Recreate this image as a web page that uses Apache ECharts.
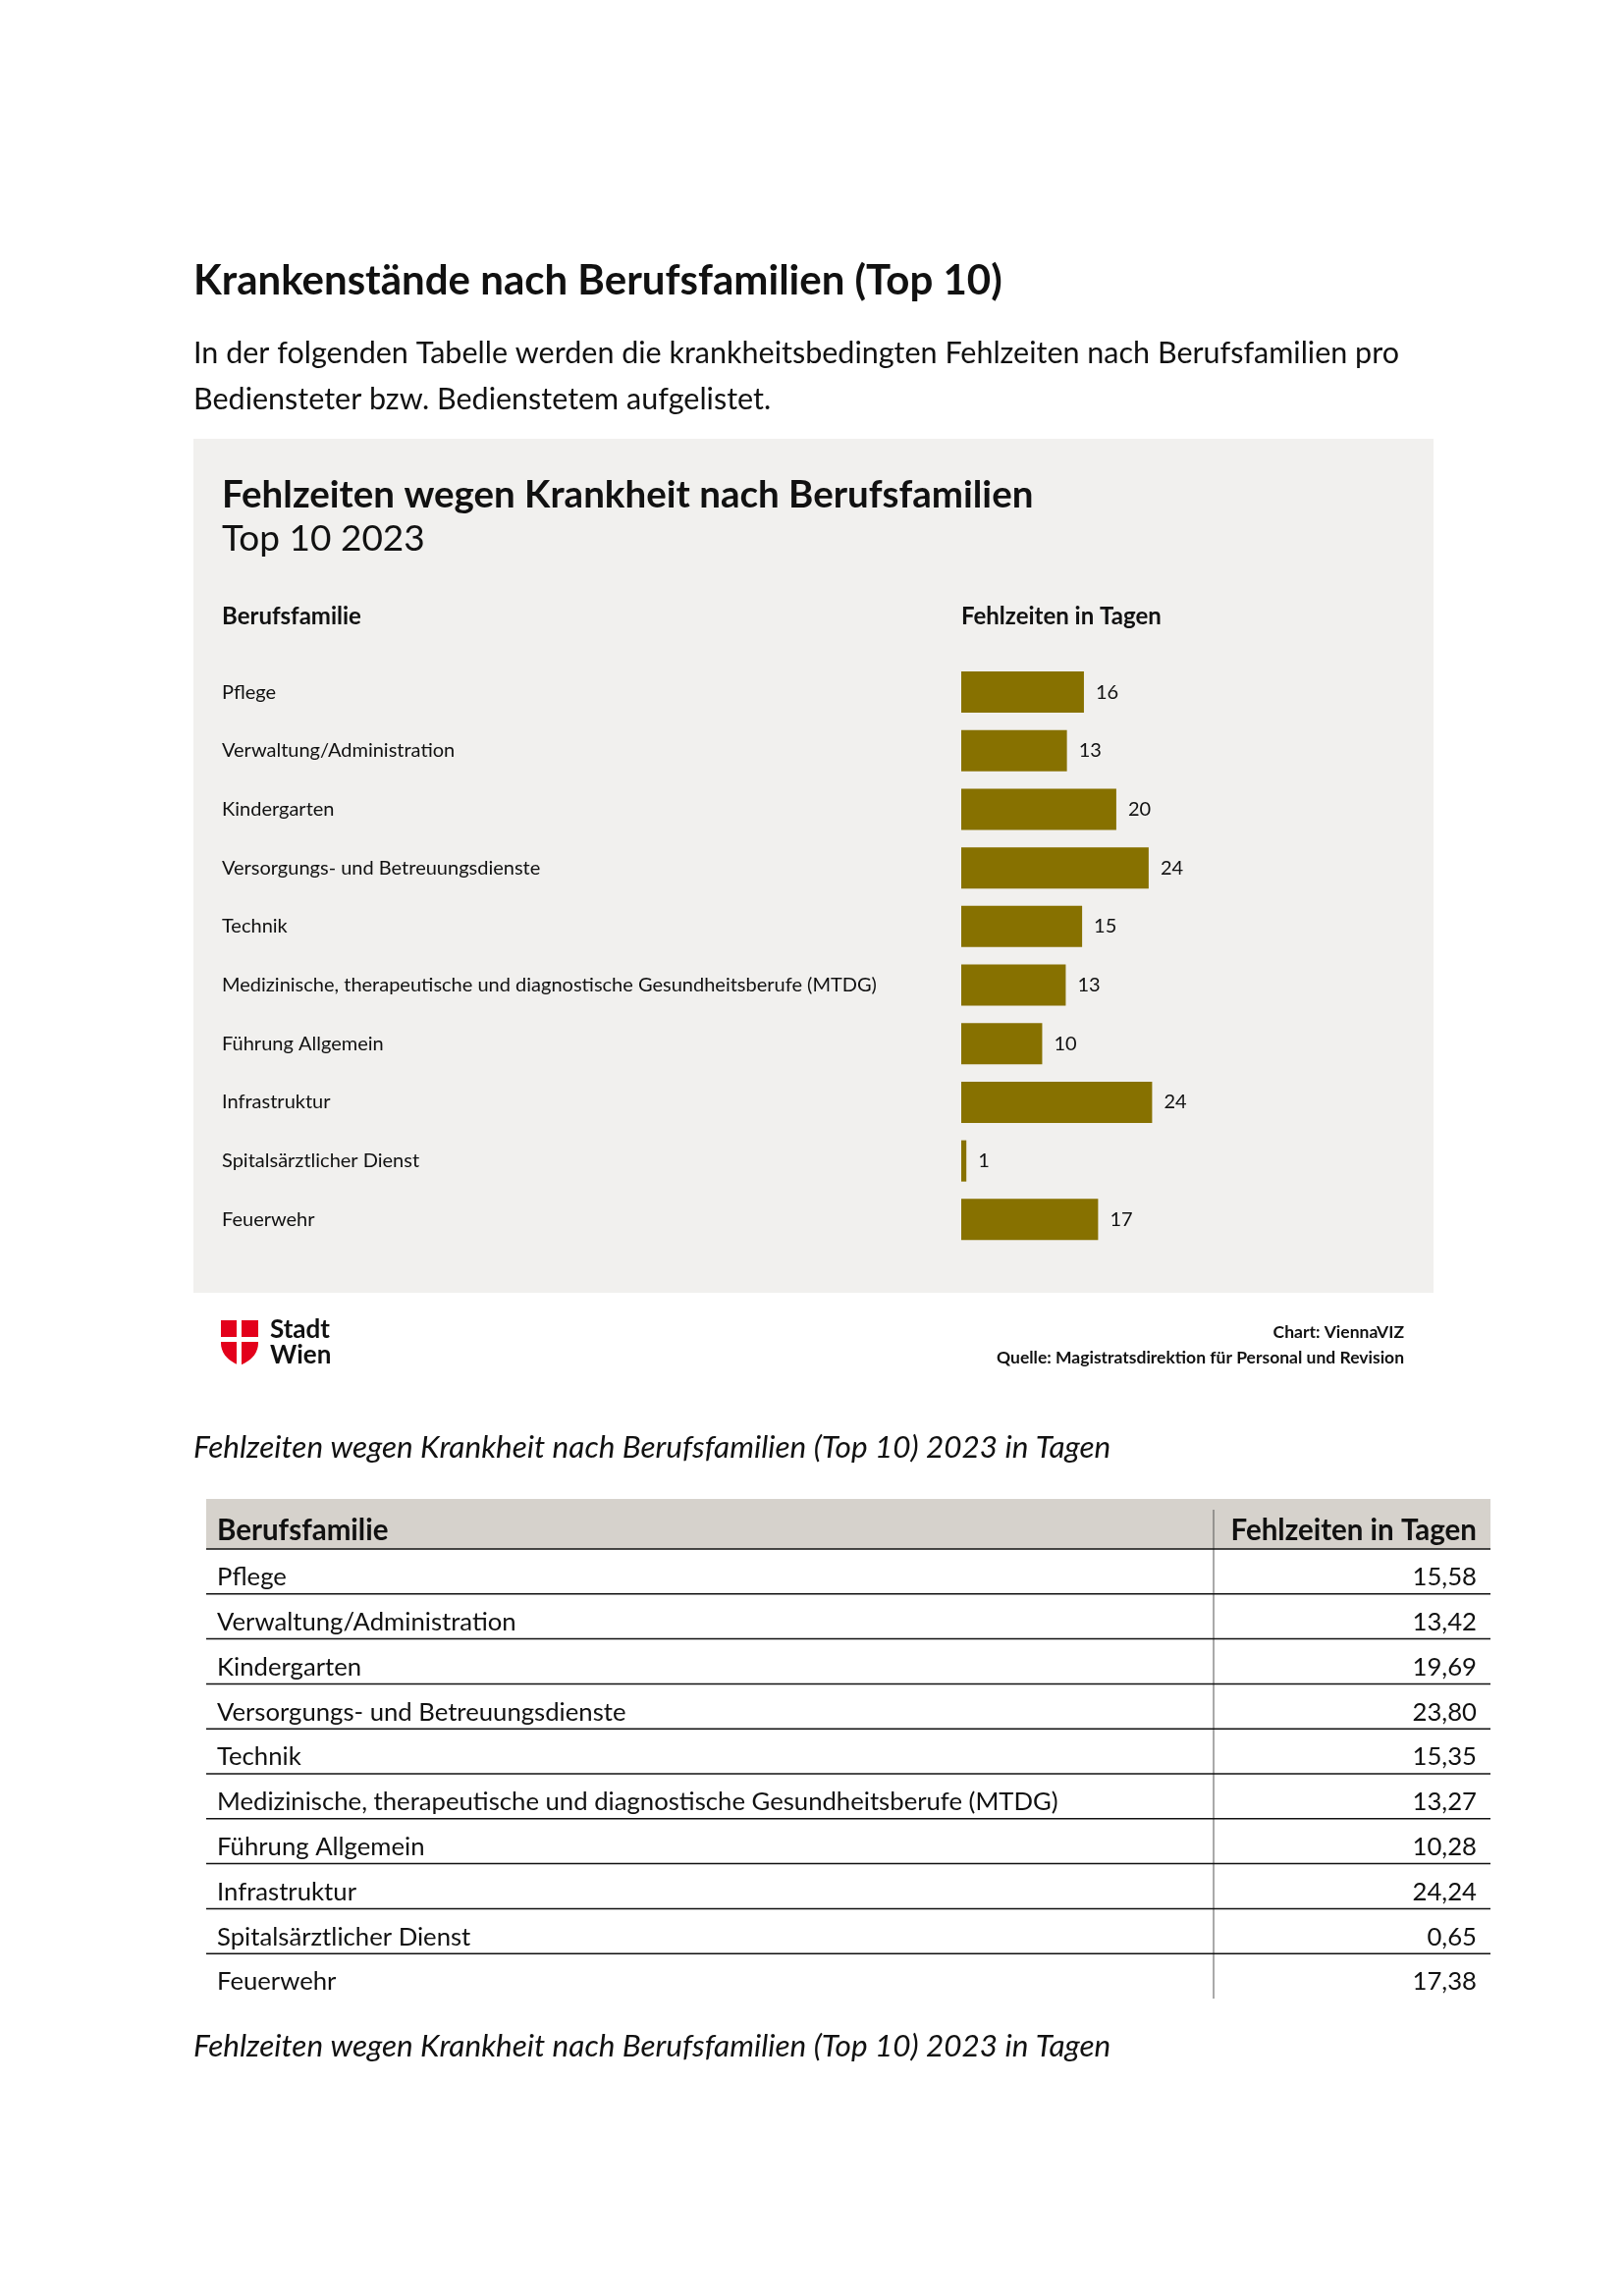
<!DOCTYPE html>
<html>
<head>
<meta charset="utf-8">
<script src="https://cdn.jsdelivr.net/npm/echarts@6/dist/echarts.min.js"></script>
<style>
html,body{margin:0;padding:0;background:#fff;}
#c{width:1654px;height:2339px;}
</style>
</head>
<body>
<div id="c"></div>
<script>
// ---- data ----
const categories = ['Pflege','Verwaltung/Administration','Kindergarten','Versorgungs- und Betreuungsdienste','Technik','Medizinische, therapeutische und diagnostische Gesundheitsberufe (MTDG)','Führung Allgemein','Infrastruktur','Spitalsärztlicher Dienst','Feuerwehr'];
const values = [15.58, 13.42, 19.69, 23.80, 15.35, 13.27, 10.28, 24.24, 0.65, 17.38];
const tableHeaders = ['Berufsfamilie', 'Fehlzeiten in Tagen'];
const pageTitle = 'Krankenstände nach Berufsfamilien (Top 10)';
const introLines = ['In der folgenden Tabelle werden die krankheitsbedingten Fehlzeiten nach Berufsfamilien pro', 'Bediensteter bzw. Bedienstetem aufgelistet.'];
const chartTitle = 'Fehlzeiten wegen Krankheit nach Berufsfamilien';
const chartSubtitle = 'Top 10 2023';
const creditLines = ['Chart: ViennaVIZ', 'Quelle: Magistratsdirektion für Personal und Revision'];
const captionText = 'Fehlzeiten wegen Krankheit nach Berufsfamilien (Top 10) 2023 in Tagen';

const F = 'Lato, "Open Sans", sans-serif';
const BAR = '#877100';
const INK = '#111111';

const chart = echarts.init(document.getElementById('c'), null, {renderer: 'canvas'});

function txt(x, y, text, size, weight, opts) {
  opts = opts || {};
  return {
    type: 'text', x: x, y: y, z: opts.z || 10,
    style: {
      text: text, fontFamily: F, fontSize: size, fontWeight: weight,
      fontStyle: opts.italic ? 'italic' : 'normal',
      fill: opts.color || INK, align: opts.align || 'left', verticalAlign: 'middle'
    }
  };
}

// shield outline for logo
function bez(p0, p1, p2, p3, n) {
  const out = [];
  for (let k = 1; k <= n; k++) {
    const t = k / n, u = 1 - t;
    out.push([u*u*u*p0[0] + 3*u*u*t*p1[0] + 3*u*t*t*p2[0] + t*t*t*p3[0],
              u*u*u*p0[1] + 3*u*u*t*p1[1] + 3*u*t*t*p2[1] + t*t*t*p3[1]]);
  }
  return out;
}
const shield = [[225, 1345], [263, 1345], [263, 1368]]
  .concat(bez([263, 1368], [263, 1380], [254, 1387], [244, 1391], 10))
  .concat(bez([244, 1391], [234, 1387], [225, 1380], [225, 1368], 10));

const g = [];
// page text
g.push(txt(197, 286, pageTitle, 42, 'bold'));
g.push(txt(197, 360, introLines[0], 30.5, 'normal'));
g.push(txt(197, 407, introLines[1], 30.5, 'normal'));
// panel
g.push({type: 'rect', z: 0, shape: {x: 197, y: 447, width: 1263, height: 870}, style: {fill: '#f1f0ee'}});
g.push(txt(226, 505, chartTitle, 38.5, 'bold'));
g.push(txt(226, 549, chartSubtitle, 37, 'normal'));
g.push(txt(226, 628, tableHeaders[0], 24, 'bold'));
g.push(txt(979, 628, tableHeaders[1], 24, 'bold'));
// logo
g.push({type: 'polygon', z: 10, shape: {points: shield}, style: {fill: '#e3001b'}});
g.push({type: 'rect', z: 11, shape: {x: 241, y: 1343, width: 5, height: 50}, style: {fill: '#fff'}});
g.push({type: 'rect', z: 11, shape: {x: 223, y: 1362, width: 42, height: 5}, style: {fill: '#fff'}});
g.push(txt(275, 1355, 'Stadt', 26, 'bold'));
g.push(txt(275, 1381, 'Wien', 26, 'bold'));
g.push(txt(1430, 1357, creditLines[0], 17.5, 'bold', {align: 'right'}));
g.push(txt(1430, 1383, creditLines[1], 17.5, 'bold', {align: 'right'}));
// captions
g.push(txt(197, 1475, captionText, 31.5, 'normal', {italic: true}));
g.push(txt(197, 2085, captionText, 31.5, 'normal', {italic: true}));

// table
const TL = 210, TR = 1518, TSEP = 1236, HTOP = 1527, HBOT = 1578, RH = 45.8, VR = 1504;
g.push({type: 'rect', z: 1, shape: {x: TL, y: HTOP, width: TR - TL, height: HBOT - HTOP}, style: {fill: '#d6d2cc'}});
g.push(txt(221, 1559, tableHeaders[0], 29.5, 'bold'));
g.push(txt(VR, 1559, tableHeaders[1], 29.5, 'bold', {align: 'right'}));
g.push({type: 'line', z: 5, shape: {x1: TSEP, y1: 1538, x2: TSEP, y2: HBOT + RH * categories.length}, style: {stroke: '#555', lineWidth: 1}});
categories.forEach(function (c, i) {
  const top = HBOT + RH * i;
  g.push({type: 'line', z: 6, shape: {x1: TL, y1: top, x2: TR, y2: top}, style: {stroke: '#111', lineWidth: 1.5}});
  g.push(txt(221, top + 29, c, 25.7, 'normal'));
  g.push(txt(VR, top + 29, values[i].toFixed(2).replace('.', ','), 25.7, 'normal', {align: 'right'}));
});

const option = {
  backgroundColor: '#ffffff',
  animation: false,
  grid: {left: 979, top: 675.2, width: 401, height: 597, show: false},
  xAxis: {type: 'value', min: 0, max: 50, show: false},
  yAxis: {
    type: 'category', data: categories, inverse: true, z: 5,
    axisLine: {show: false}, axisTick: {show: false}, splitLine: {show: false},
    axisLabel: {align: 'left', margin: 753, fontFamily: F, fontSize: 20, color: INK}
  },
  series: [{
    type: 'bar', data: values, barWidth: 42, z: 5,
    itemStyle: {color: BAR},
    label: {show: true, position: 'right', distance: 12, fontFamily: F, fontSize: 20, color: INK,
      formatter: function (p) { return String(Math.round(p.value)); }}
  }],
  graphic: {elements: g}
};
chart.setOption(option);
</script>
</body>
</html>
